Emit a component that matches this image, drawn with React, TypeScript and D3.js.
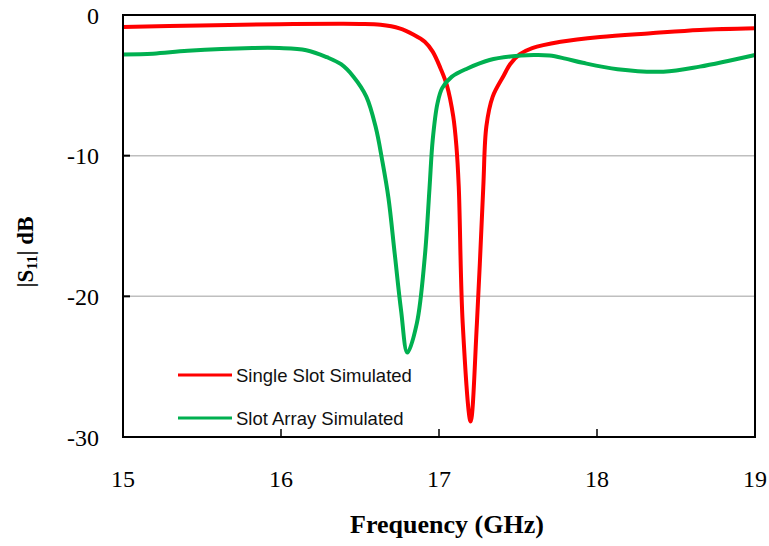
import React from 'react';
import * as d3 from 'd3';

// frequency (GHz) and |S11| (dB)
const singleFreq = [15.0, 15.49, 15.99, 16.37, 16.5, 16.63, 16.75, 16.84, 16.91, 16.96, 17.01, 17.05, 17.09, 17.11, 17.125, 17.15, 17.2, 17.24, 17.28, 17.3, 17.34, 17.41, 17.45, 17.51, 17.59, 17.77, 18.02, 18.34, 18.65, 19.0];
const singleDb = [-0.85, -0.75, -0.65, -0.63, -0.64, -0.7, -0.95, -1.4, -1.9, -2.6, -3.8, -5.0, -7.2, -9.3, -12.2, -21.9, -28.9, -21.9, -12.3, -7.9, -5.8, -4.3, -3.5, -2.8, -2.35, -1.9, -1.56, -1.3, -1.07, -0.95];

const arrayFreq = [15.0, 15.19, 15.41, 15.82, 15.99, 16.16, 16.29, 16.38, 16.46, 16.54, 16.6, 16.64, 16.68, 16.72, 16.76, 16.8, 16.86, 16.91, 16.94, 16.96, 16.99, 17.02, 17.08, 17.18, 17.32, 17.45, 17.6, 17.7, 17.8, 17.91, 18.13, 18.42, 18.65, 19.0];
const arrayDb = [-2.8, -2.75, -2.55, -2.35, -2.35, -2.5, -3.0, -3.5, -4.4, -5.8, -8.0, -10.3, -13.0, -17.0, -21.0, -24.0, -21.9, -17.2, -12.3, -8.9, -6.3, -5.2, -4.4, -3.8, -3.2, -2.95, -2.85, -2.88, -3.1, -3.4, -3.86, -4.03, -3.67, -2.84];

const xTicks = [15, 16, 17, 18, 19];
const yTicks = [0, -10, -20, -30];
const seriesNames = ['Single Slot Simulated', 'Slot Array Simulated'];
const seriesColors = ['#ff0000', '#00b050'];

const W = 769;
const H = 546;
const left = 123;
const right = 755;
const top = 15;
const bottom = 437;

export default function App() {
  const x = d3.scaleLinear().domain([15, 19]).range([left, right]);
  const y = d3.scaleLinear().domain([-30, 0]).range([bottom, top]);

  const line = d3.line<[number, number]>()
    .x(d => x(d[0]))
    .y(d => y(d[1]))
    .curve(d3.curveCatmullRom.alpha(0.5));

  const series = [
    singleFreq.map((f, i) => [f, singleDb[i]] as [number, number]),
    arrayFreq.map((f, i) => [f, arrayDb[i]] as [number, number]),
  ];

  const serif = '"Liberation Serif", "Times New Roman", serif';

  return (
    <div style={{ position: 'absolute', left: 0, top: 0 }}>
      <svg width={W} height={H} style={{ display: 'block', background: '#fff' }}>
        {/* gridlines */}
        {yTicks.filter(t => t !== 0 && t !== -30).map(t => (
          <line key={'g' + t} x1={left} x2={right} y1={y(t)} y2={y(t)} stroke="#bfbfbf" strokeWidth={1.5} />
        ))}
        {/* inner ticks */}
        {yTicks.map(t => (
          <line key={'yt' + t} x1={left} x2={left + 7} y1={y(t)} y2={y(t)} stroke="#000" strokeWidth={2} />
        ))}
        {xTicks.map(t => (
          <line key={'xt' + t} x1={x(t)} x2={x(t)} y1={bottom} y2={bottom - 8} stroke="#000" strokeWidth={1.5} />
        ))}

        {/* curves */}
        {series.map((s, i) => (
          <path key={'s' + i} d={line(s) ?? ''} fill="none" stroke={seriesColors[i]} strokeWidth={4} strokeLinejoin="round" />
        ))}

        {/* frame */}
        <rect x={left} y={top} width={right - left} height={bottom - top} fill="none" stroke="#000" strokeWidth={2} />

        {/* tick labels */}
        {yTicks.map(t => (
          <text key={'yl' + t} x={99} y={y(t) + 8.5} textAnchor="end" fontFamily={serif} fontSize={24}>{t}</text>
        ))}
        {xTicks.map(t => (
          <text key={'xl' + t} x={x(t)} y={487} textAnchor="middle" fontFamily={serif} fontSize={24}>{t}</text>
        ))}

        {/* axis titles */}
        <text x={447} y={533} textAnchor="middle" fontFamily={serif} fontSize={26} fontWeight="bold">Frequency (GHz)</text>
        <text transform="translate(33,252) rotate(-90)" textAnchor="middle" fontFamily={serif} fontSize={23} fontWeight="bold">
          |S<tspan fontSize={15} dy={4}>11</tspan><tspan dy={-4}>| dB</tspan>
        </text>

        {/* legend */}
        {seriesNames.map((name, i) => (
          <g key={'lg' + i} transform={`translate(178,${375 + i * 43})`}>
            <line x1={0} x2={54} y1={0} y2={0} stroke={seriesColors[i]} strokeWidth={3} />
            <text x={58} y={7} fontFamily='"Liberation Sans", Arial, sans-serif' fontSize={18.5} fill="#111">{name}</text>
          </g>
        ))}
      </svg>
    </div>
  );
}
